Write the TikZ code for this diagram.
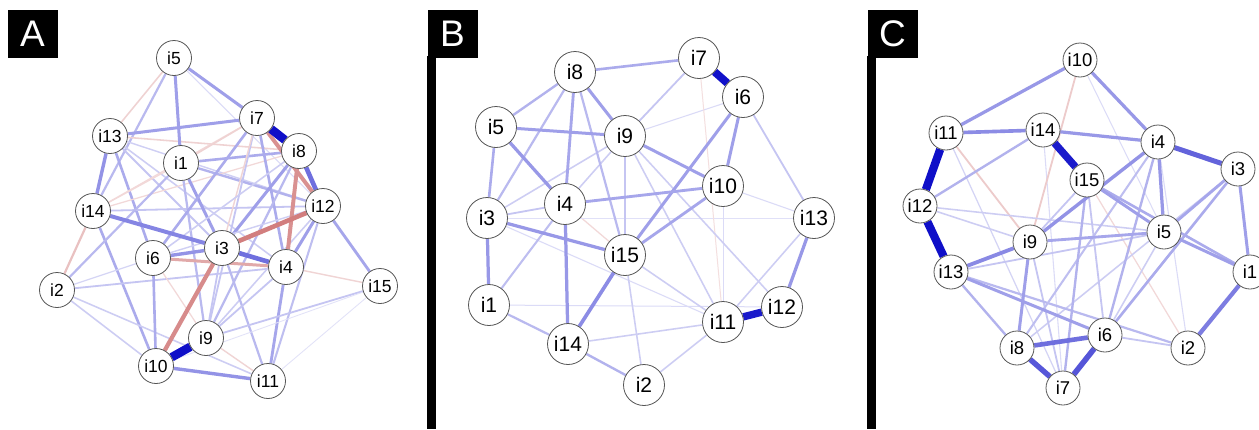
\documentclass[tikz,border=0pt]{standalone}
\usepackage{fontspec}
\setmainfont{Liberation Sans}

\definecolor{qblue}{RGB}{15,15,200}
\definecolor{qred}{RGB}{180,40,40}
\definecolor{ringgray}{RGB}{85,85,85}

\pgfdeclarelayer{paper}
\pgfdeclarelayer{edgelayer}
\pgfsetlayers{paper,edgelayer,main}

% weighted edges: prefix, list of from/to/weight (negative weight = red)
\newcommand\netedges[2]{%
  \foreach \ea/\eb/\ew in {#2} {%
    \pgfmathsetmacro\elw{0.6+8*abs(\ew)}%
    \pgfmathtruncatemacro\emix{min(100,10+100*abs(\ew))}%
    \ifdim \ew pt<0pt \def\ecol{qred}\else\def\ecol{qblue}\fi
    \draw[line width=\elw pt, draw=\ecol!\emix] (#1\ea) -- (#1\eb);
  }%
}

\begin{document}
\begin{tikzpicture}[x=1pt,y=-1pt,
  item/.style={circle, draw=ringgray, line width=0.8pt, fill=white, inner sep=0pt},
  itemA/.style={item, minimum size=35pt, font=\fontsize{17.5}{17.5}\selectfont},
  itemB/.style={item, minimum size=41pt, font=\fontsize{21}{21}\selectfont},
  itemC/.style={item, minimum size=34pt, font=\fontsize{18.5}{18.5}\selectfont},
  tag/.style={fill=black, text=white, inner sep=0pt, minimum width=50pt,
    minimum height=48pt, font=\fontsize{37}{37}\selectfont}]

\useasboundingbox (0,0) rectangle (1259,429);
\begin{pgfonlayer}{paper}
  \fill[white] (0,0) rectangle (1259,429);
\end{pgfonlayer}

% panel tags and side bars
\node[tag] (tA) at (32.5,33.5) {A};
\node[tag] (tB) at (452.5,33.5) {B};
\node[tag] (tC) at (892.5,33.5) {C};
\fill[black] (427,56) rectangle (436,429);
\fill[black] (867,56) rectangle (876,429);

% ---- network A ----
\foreach \n/\x/\y in {1/181/163, 2/57/290, 3/222/248, 4/286/267, 5/174/58,
  6/153/258, 7/257/118, 8/299/151, 9/206/338, 10/156/366, 11/268/381,
  12/323/206, 13/110/136, 14/93/211, 15/380/286}
  \node[itemA] (a\n) at (\x,\y) {i\n};

% ---- network B ----
\foreach \n/\x/\y in {1/489/305, 2/644/385, 3/487/218, 4/565/204, 5/496/127,
  6/743/97, 7/699/58, 8/575/72, 9/625/136, 10/723/186, 11/723/322,
  12/782/307, 13/814/218, 14/568/344, 15/625/255}
  \node[itemB] (b\n) at (\x,\y) {i\n};

% ---- network C ----
\foreach \n/\x/\y in {1/1250/272, 2/1188/348, 3/1238/169, 4/1158/142,
  5/1164/232, 6/1105/335, 7/1063/388, 8/1017/348, 9/1030/242, 10/1080/60,
  11/946/133, 12/920/206, 13/951/272, 14/1043/130, 15/1087/180}
  \node[itemC] (c\n) at (\x,\y) {i\n};

\begin{pgfonlayer}{edgelayer}
\netedges{a}{5/13/-0.12, 5/14/0.2, 5/12/0.06, 5/8/0.06, 13/8/-0.12,
  13/12/0.1, 13/3/0.15, 13/4/0.12, 13/6/0.25, 13/7/0.3, 14/12/0.15,
  14/4/-0.1, 14/10/0.25, 14/2/-0.2, 14/8/-0.08, 14/7/-0.08, 2/1/0.2,
  2/4/0.15, 2/10/0.12, 2/11/0.12, 2/6/0.08, 1/3/0.3, 1/8/0.25, 1/12/0.22,
  1/9/0.2, 1/7/-0.12, 1/14/-0.08, 7/6/0.25, 7/4/0.25, 7/9/0.15, 7/3/-0.1,
  8/3/0.3, 8/9/0.2, 8/6/0.12, 12/4/0.3, 12/15/0.28, 12/11/0.18, 12/9/0.12,
  12/6/0.1, 3/11/0.2, 3/9/0.15, 4/11/0.28, 4/15/-0.1, 6/10/0.25, 6/9/-0.08,
  6/4/-0.3, 6/3/0.35, 9/15/0.15, 9/4/0.15, 10/15/0.03, 11/15/0.03,
  9/11/-0.1, 10/11/0.35, 13/14/0.35, 5/1/0.3, 5/7/0.3, 14/3/0.42, 3/4/0.5,
  8/12/0.5, 7/12/-0.42, 8/4/-0.42, 12/3/-0.5, 3/10/-0.45, 7/8/1.0, 9/10/1.0}

\netedges{b}{4/15/-0.08, 3/13/0.04, 10/11/0.05, 10/13/0.06, 6/9/0.06,
  7/11/-0.05, 3/11/0.06, 1/12/0.05, 9/12/0.12, 9/11/0.12, 9/3/0.12,
  9/4/0.12, 9/15/0.15, 3/4/0.15, 4/1/0.18, 8/3/0.2, 8/15/0.2, 5/3/0.25,
  8/5/0.22, 7/9/0.15, 6/13/0.15, 15/11/0.12, 15/2/0.12, 14/11/0.12,
  2/11/0.12, 13/11/0.12, 1/14/0.2, 14/2/0.22, 8/7/0.25, 8/9/0.3, 8/4/0.28,
  5/9/0.3, 5/4/0.33, 6/15/0.3, 6/10/0.3, 9/10/0.3, 10/4/0.28, 10/15/0.28,
  3/15/0.33, 3/1/0.33, 4/14/0.33, 15/14/0.38, 13/12/0.33, 11/12/0.85,
  7/6/0.9}

\netedges{c}{14/7/0.06, 11/7/0.08, 10/5/0.05, 4/2/0.06, 15/2/-0.08,
  3/8/0.12, 11/9/-0.15, 10/9/-0.15, 12/5/0.12, 12/9/0.12, 13/5/0.15,
  5/6/0.12, 15/9/0.15, 15/6/0.15, 9/7/0.15, 6/2/0.15, 13/2/0.2, 4/8/0.18,
  4/6/0.22, 15/7/0.22, 13/8/0.22, 14/12/0.22, 3/6/0.25, 3/5/0.28, 9/5/0.28,
  15/1/0.25, 3/1/0.3, 9/8/0.3, 13/6/0.3, 5/1/0.3, 15/5/0.3, 4/5/0.33,
  9/4/0.35, 10/4/0.33, 11/10/0.33, 14/4/0.33, 11/14/0.38, 13/9/0.4,
  1/2/0.45, 8/6/0.5, 4/3/0.55, 8/7/0.6, 6/7/0.62, 14/15/0.85, 11/12/0.95,
  12/13/0.95}
\end{pgfonlayer}
\end{tikzpicture}
\end{document}
